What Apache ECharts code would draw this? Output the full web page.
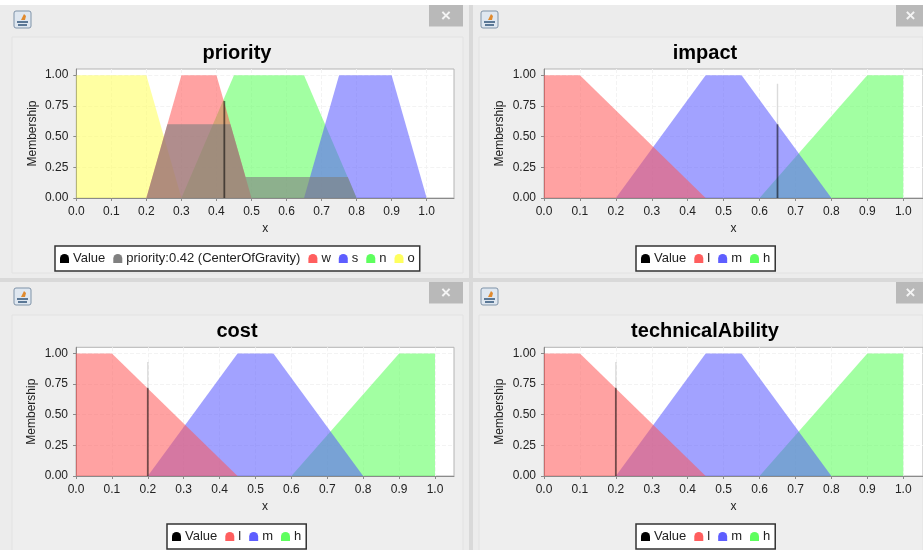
<!DOCTYPE html>
<html>
<head>
<meta charset="utf-8">
<style>html,body{margin:0;padding:0;background:#fff}#c{width:923px;height:550px}</style>
<script src="https://cdn.jsdelivr.net/npm/echarts@6/dist/echarts.min.js"></script>
</head>
<body>
<div id="c"></div>
<script>
const xTicks = [0, 0.1, 0.2, 0.3, 0.4, 0.5, 0.6, 0.7, 0.8, 0.9, 1.0];
const yTicks = [0, 0.25, 0.5, 0.75, 1.0];

const prioO = [[0, 1], [0.2, 1], [0.3, 0]];
const prioW = [[0.2, 0], [0.3, 1], [0.4, 1], [0.5, 0]];
const prioN = [[0.3, 0], [0.45, 1], [0.65, 1], [0.8, 0]];
const prioS = [[0.65, 0], [0.75, 1], [0.9, 1], [1.0, 0]];
const prioOut = [[0.2, 0], [0.26, 0.6], [0.44, 0.6], [0.483, 0.17], [0.775, 0.17], [0.8, 0]];
const prioValue = [[0.4225, 0], [0.4225, 0.79]];

const termL = [[0, 1], [0.1, 1], [0.45, 0]];
const termM = [[0.2, 0], [0.45, 1], [0.55, 1], [0.8, 0]];
const termH = [[0.6, 0], [0.9, 1], [1.0, 1]];

const impactValue = [[0.65, 0], [0.65, 0.6]];
const impactGhost = [[0.65, 0.6], [0.65, 0.93]];
const costValue = [[0.2, 0], [0.2, 0.72]];
const costGhost = [[0.2, 0.72], [0.2, 0.93]];
const techValue = [[0.2, 0], [0.2, 0.72]];
const techGhost = [[0.2, 0.72], [0.2, 0.93]];

const COL = {w:'#ff5555', l:'#ff5555', s:'#5555ff', m:'#5555ff', n:'#55ff55', h:'#55ff55', o:'#ffff55', Value:'#000000'};
const OUT = 'priority:0.42 (CenterOfGravity)';
COL[OUT] = '#808080';
const BELL = 'path://M0,10 L0,5 A5,5 0 0 1 10,5 L10,10 Z';
const FONT = '"Liberation Sans", Arial, sans-serif';

const panels = [
  {title:'priority', cx:237, titleY:52, gl:76.3, gr:454, gt:69, gb:198, xMax:1.078,
   legend:['Value', OUT, 'w', 's', 'n', 'o'], legL:55, legT:246,
   areas:[['o',prioO],['n',prioN],['s',prioS],['w',prioW],[OUT,prioOut]], value:prioValue, ghost:null},
  {title:'impact', cx:705, titleY:52, gl:544, gr:923, gt:69, gb:198, xMax:1.055,
   legend:['Value','l','m','h'], legL:636, legT:246,
   areas:[['h',termH],['m',termM],['l',termL]], value:impactValue, ghost:impactGhost},
  {title:'cost', cx:237, titleY:330, gl:76, gr:454, gt:347.3, gb:476, xMax:1.053,
   legend:['Value','l','m','h'], legL:167, legT:524,
   areas:[['h',termH],['m',termM],['l',termL]], value:costValue, ghost:costGhost},
  {title:'technicalAbility', cx:705, titleY:330, gl:544, gr:923, gt:347.3, gb:476, xMax:1.055,
   legend:['Value','l','m','h'], legL:636, legT:524,
   areas:[['h',termH],['m',termM],['l',termL]], value:techValue, ghost:techGhost}
];

const W = 923, H = 550;
const opt = {animation:false, backgroundColor:'#d9d9d9', title:[], grid:[], xAxis:[], yAxis:[], legend:[], series:[], graphic:[]};

[[0,0,469,278],[473,0,450,278],[0,282,469,268],[473,282,450,268]].forEach(r => {
  opt.graphic.push({type:'rect', z:-10, shape:{x:r[0], y:r[1], width:r[2], height:r[3]}, style:{fill:'#ececec'}});
});
opt.graphic.push({type:'rect', z:-10, shape:{x:0, y:0, width:W, height:5}, style:{fill:'#ffffff'}});
[[12,37,451,236,5,429,34],[479,37,444,236,5,896,27],[12,315,451,240,282,429,34],[479,315,444,240,282,896,27]].forEach(a => {
  const [x,y,w,h,ty,cx,cw] = a, g = opt.graphic;
  g.push({type:'rect', z:-9, shape:{x:x, y:y, width:w, height:h}, style:{fill:'#eeeeee', stroke:'#e2e2e2', lineWidth:1}});
  g.push({type:'rect', z:-8, shape:{x:cx, y:ty, width:cw, height:21.5}, style:{fill:'#b9b9b9'}});
  g.push({type:'text', z:-7, style:{x:cx+cw/2-(cw<30?-1:0), y:ty+11, text:'×', fill:'#f4f4f4', font:'bold 17px '+FONT, align:'center', verticalAlign:'middle'}});
  const ix = x+2, iy = ty+6;
  g.push({type:'rect', z:-8, shape:{x:ix, y:iy, width:17, height:17, r:2}, style:{fill:'#dfe7f0', stroke:'#7f93a8', lineWidth:1}});
  g.push({type:'polygon', z:-7, shape:{points:[[ix+7,iy+9],[ix+10,iy+3],[ix+12,iy+5],[ix+11,iy+9]]}, style:{fill:'#e08a2e'}});
  g.push({type:'rect', z:-7, shape:{x:ix+3, y:iy+10, width:11, height:2}, style:{fill:'#5b7896'}});
  g.push({type:'rect', z:-7, shape:{x:ix+4, y:iy+13, width:9, height:2}, style:{fill:'#5b7896'}});
});

panels.forEach((p, i) => {
  opt.title.push({text:p.title, left:p.cx, top:p.titleY+1, textAlign:'center', textVerticalAlign:'middle', padding:0,
    textStyle:{fontFamily:FONT, fontWeight:'bold', fontSize:20, color:'#000'}});
  opt.grid.push({left:p.gl, top:p.gt, width:p.gr-p.gl, height:p.gb-p.gt, show:true, backgroundColor:'#ffffff', borderColor:'#b4b4b4', borderWidth:1});
  const grid = {lineStyle:{color:'#f3f3f3', type:'dashed', width:1}};
  opt.xAxis.push({type:'value', gridIndex:i, min:0, max:p.xMax, name:'x', nameLocation:'middle', nameGap:25,
    nameTextStyle:{fontFamily:FONT, fontSize:12, color:'#222'},
    axisLine:{show:true, onZero:false, lineStyle:{color:'#8a8a8a'}},
    axisTick:{show:true, length:3, lineStyle:{color:'#8a8a8a'}, customValues:xTicks},
    axisLabel:{fontFamily:FONT, fontSize:12, color:'#222', margin:8, customValues:xTicks, formatter:v=>v.toFixed(1), hideOverlap:false},
    splitLine:Object.assign({show:true}, grid)});
  opt.yAxis.push({type:'value', gridIndex:i, min:0, max:1.05, name:'Membership', nameLocation:'middle', nameGap:38,
    nameTextStyle:{fontFamily:FONT, fontSize:12, color:'#222'},
    axisLine:{show:true, onZero:false, lineStyle:{color:'#8a8a8a'}},
    axisTick:{show:true, length:3, lineStyle:{color:'#8a8a8a'}, customValues:yTicks},
    axisLabel:{fontFamily:FONT, fontSize:12, color:'#222', margin:8, padding:[2,0,0,0], customValues:yTicks, formatter:v=>v.toFixed(2), hideOverlap:false},
    splitLine:Object.assign({show:true}, grid)});
  opt.legend.push({left:p.legL, top:p.legT, orient:'horizontal', padding:[6,5], itemGap:8, itemWidth:9, itemHeight:9,
    backgroundColor:'#ffffff', borderColor:'#333333', borderWidth:1.5, borderRadius:0, selectedMode:false,
    textStyle:{fontFamily:FONT, fontSize:13, color:'#222', padding:[0,0,0,-1]},
    data:p.legend.map(n => ({name:n, icon:BELL, itemStyle:{color:COL[n], opacity:n==='Value'||n===OUT?1:0.95}, lineStyle:{opacity:0}}))});
  p.areas.forEach(a => {
    const isOut = a[0] === OUT;
    opt.series.push({type:'line', name:a[0], xAxisIndex:i, yAxisIndex:i, data:a[1], showSymbol:false, symbol:'none', silent:true,
      lineStyle:{width:0, color:COL[a[0]]}, itemStyle:{color:COL[a[0]]},
      areaStyle:{color:COL[a[0]], opacity:isOut?0.62:0.55}});
  });
  opt.series.push({type:'line', name:'Value', xAxisIndex:i, yAxisIndex:i, data:p.value, showSymbol:false, symbol:'none', silent:true,
    lineStyle:{width:1.8, color:'#000000', opacity:0.55}, itemStyle:{color:'#000000'}});
  if (p.ghost) {
    opt.series.push({type:'line', name:'Value', xAxisIndex:i, yAxisIndex:i, data:p.ghost, showSymbol:false, symbol:'none', silent:true,
      lineStyle:{width:1.4, color:'#000000', opacity:0.14}, itemStyle:{color:'#000000'}});
  }
});

const chart = echarts.init(document.getElementById('c'), null, {renderer:'canvas', width:W, height:H});
chart.setOption(opt);
</script>
</body>
</html>
